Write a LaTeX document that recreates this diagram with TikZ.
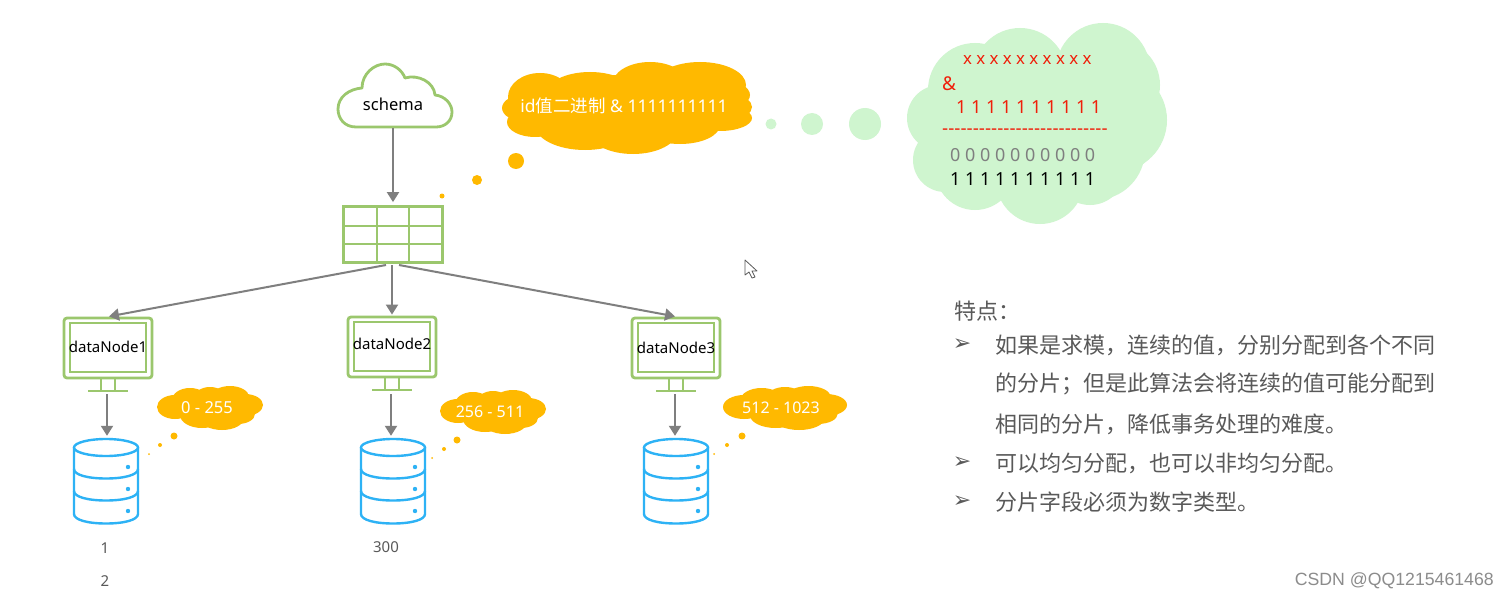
\documentclass[tikz,border=0pt]{standalone}
\usepackage{fontspec}
\setmainfont{Noto Sans}
\newfontfamily\cjkf{Noto Sans CJK SC}
\newfontfamily\symf{DejaVu Sans}
\newfontfamily\wmf{Liberation Sans}
\usetikzlibrary{arrows.meta}
\definecolor{grn}{HTML}{9BC76D}
\definecolor{org}{HTML}{FFB900}
\definecolor{mint}{HTML}{CFF5CF}
\definecolor{dbb}{HTML}{2DB2F5}
\definecolor{arr}{HTML}{7F7F7F}
\definecolor{txtg}{HTML}{595959}
\definecolor{redt}{HTML}{F01E0A}
\tikzset{
  conn/.style={draw=arr,line width=2pt,-{Triangle[length=10pt,width=12pt]}},
  gline/.style={draw=grn,line width=2.8pt},
  dbline/.style={draw=dbb,line width=2.4pt},
  lab/.style={inner sep=0pt,font=\fontsize{15}{18}\selectfont},
  whitelab/.style={lab,text=white},
  calc/.style={inner sep=0pt,anchor=west,font=\fontsize{18}{20}\selectfont},
  point/.style={inner sep=0pt,anchor=west,text=txtg,font=\cjkf\fontsize{22}{24}\selectfont},
  bul/.style={inner sep=0pt,text=txtg,font=\symf\fontsize{22}{24}\selectfont},
  num/.style={inner sep=0pt,text=txtg,font=\fontsize{15}{16}\selectfont},
}
\newcommand{\blob}[2]{\foreach \a/\b/\c/\d in {#2}{\fill[#1] (\a,\b) ellipse [x radius=\c pt,y radius=\d pt];}}
\newcommand{\dotc}[4]{\fill[#1] (#2,#3) circle [radius=#4pt];}
\newcommand{\smallcloud}[3]{\begin{scope}[shift={(#1,#2)},xscale=#3]
  \blob{org}{-35/-1/18/12,-20/-8/18/12,-8/7/22/13,12/10/22/12,28/6/17/10,35/-3/18/11,20/-11/19/11,0/-10/16/11,0/0/38/14}
\end{scope}}
\newcommand{\monitor}[5]{% name cx cy label-dy label
  \node[gline,rounded corners=3pt,minimum width=88pt,minimum height=60pt,inner sep=0pt] (#1) at (#2,#3) {};
  \draw[gline] (#2-38,#3-25) rectangle (#2+38,#3+24);
  \draw[gline] (#2-7,#3+30) -- (#2-7,#3+42) (#2+7,#3+30) -- (#2+7,#3+42);
  \draw[gline] (#2-20,#3+43) -- (#2+20,#3+43);
  \node[lab] at (#2,#3+#4) {#5};
}
\newcommand{\database}[2]{% name cx
  \node[minimum width=64pt,minimum height=85pt,inner sep=0pt] (#1) at (#2,481.5) {};
  \draw[dbline] (#2,447.5) ellipse [x radius=32pt,y radius=8.5pt];
  \draw[dbline] (#2-32,447.5) -- (#2-32,514) .. controls (#2-32,520) and (#2-18,523.5) .. (#2,523.5) .. controls (#2+18,523.5) and (#2+32,520) .. (#2+32,514) -- (#2+32,447.5);
  \draw[dbline] (#2-32,469) .. controls (#2-32,475) and (#2-18,478.5) .. (#2,478.5) .. controls (#2+18,478.5) and (#2+32,475) .. (#2+32,469);
  \draw[dbline] (#2-32,491) .. controls (#2-32,497) and (#2-18,500.5) .. (#2,500.5) .. controls (#2+18,500.5) and (#2+32,497) .. (#2+32,491);
  \dotc{dbb}{#2+22}{467}{2.2}\dotc{dbb}{#2+22}{489}{2.2}\dotc{dbb}{#2+22}{511}{2.2}
}
\begin{document}
\begin{tikzpicture}[x=1pt,y=-1pt]
\useasboundingbox (0,0) rectangle (1509,599);
\fill[white] (0,0) rectangle (1509,599);
% schema cloud
\draw[gline,fill=white,line join=round] (356,127) .. controls (344,127) and (338,118) .. (338,109) .. controls (338,97) and (349,89) .. (362,88) .. controls (362,74) and (374,64) .. (385,64) .. controls (394,64) and (402,70) .. (405,78) .. controls (418,74) and (434,82) .. (435,95) .. controls (445,96) and (452,104) .. (452,112) .. controls (452,121) and (445,127) .. (436,127) -- cycle;
\node[lab,font=\fontsize{16.5}{18}\selectfont,minimum width=114pt,minimum height=48pt] (schema) at (393,104) {schema};
% table
\node[gline,minimum width=99pt,minimum height=56pt,inner sep=0pt] (table) at (393,234.5) {};
\draw[gline] (377,207) -- (377,262) (409,207) -- (409,262) (344,226) -- (442,226) (344,244) -- (442,244);
\coordinate (t1) at (386,265);
\coordinate (t2) at (392,265);
\coordinate (t3) at (399,265);
% big orange cloud
\blob{org}{540/97/32/24,527/108/25/14,535/122/28/15,585/125/50/25,633/130/45/24,680/125/40/19,720/118/32/13,700/85/46/23,650/85/38/23,590/95/45/23,725/95/25/14,735/107/17/11,620/105/100/30}
\node[whitelab,font=\fontsize{17.5}{18}\selectfont] (idcloud) at (624,106) {id{\cjkf 值二进制} \& 1111111111};
\dotc{org}{516}{161}{8}\dotc{org}{477}{180}{5}\dotc{org}{442}{196}{2.5}
% green cloud
\blob{mint}{1103/70/47/47,1115/85/45/45,1115/120/52/52,1120/135/37/37,1095/150/50/50,1040/180/44/44,975/170/40/40,940/118/33/33,945/160/32/32,975/90/47/47,1020/75/47/47,1040/120/70/70,1090/170/35/35}
\dotc{mint}{771}{124}{5.5}\dotc{mint}{812}{124}{11}\dotc{mint}{865}{124}{16}
\node[calc,text=redt,font=\fontsize{16.8}{20}\selectfont] (xrow) at (963,60) {x x x x x x x x x x};
\node[calc,text=redt,font=\fontsize{19}{20}\selectfont] (amp) at (942,84) {\&};
\node[calc,text=redt] (ones) at (956,107) {1 1 1 1 1 1 1 1 1 1};
\node[calc,text=redt,font=\wmf\fontsize{18.4}{20}\selectfont] (dashes) at (942,132) {-{}-{}-{}-{}-{}-{}-{}-{}-{}-{}-{}-{}-{}-{}-{}-{}-{}-{}-{}-{}-{}-{}-{}-{}-{}-{}-};
\node[calc,text=arr] (zeros) at (950,155) {0 0 0 0 0 0 0 0 0 0};
\node[calc,text=black] (res) at (950,179) {1 1 1 1 1 1 1 1 1 1};
% monitors
\monitor{dn1}{108}{348}{-1}{dataNode1}
\monitor{dn2}{392}{347}{-3}{dataNode2}
\monitor{dn3}{676}{348}{0}{dataNode3}
\draw[conn,shorten >=1pt] (t1) -- (dn1.north);
\draw[conn,shorten >=1pt] (t2) -- (dn2.north);
\draw[conn,shorten >=1pt] (t3) -- (dn3.north);
\draw[conn,shorten >=3pt] (schema.south) -- (schema.south |- table.north);
% databases
\database{db1}{106}
\database{db2}{393}
\database{db3}{676}
\coordinate (b1) at (107,394);
\coordinate (b2) at (391,394);
\coordinate (b3) at (675,394);
\draw[conn,shorten >=3pt] (b1) -- (b1 |- db1.north);
\draw[conn,shorten >=3pt] (b2) -- (b2 |- db2.north);
\draw[conn,shorten >=3pt] (b3) -- (b3 |- db3.north);
% small clouds
\smallcloud{210}{408}{1}
\node[whitelab,font=\fontsize{16.5}{18}\selectfont] (c1) at (207,408) {0 - 255};
\dotc{org}{174}{436}{3.5}\dotc{org}{160}{445}{2}\dotc{org}{149}{454}{1}
\smallcloud{493}{412}{1}
\node[whitelab,font=\fontsize{16}{18}\selectfont] (c2) at (490,412) {256 - 511};
\dotc{org}{457}{440}{3.5}\dotc{org}{444}{449}{2}\dotc{org}{432}{458}{1}
\smallcloud{785}{408}{1.17}
\node[whitelab,font=\fontsize{16}{18}\selectfont] (c3) at (781,408) {512 - 1023};
\dotc{org}{742}{436}{3.5}\dotc{org}{727}{445}{2}\dotc{org}{714}{454}{1}
% numbers
\node[num] (n1) at (105,548) {1};
\node[num] (n2) at (105,581) {2};
\node[num] (n300) at (386,547) {300};
% cursor
\draw[fill=white,draw=txtg,line width=.8pt,line join=round] (745,260) -- (745,275) -- (749,272) -- (752,278) -- (755,277) -- (752,271) -- (757,271) -- cycle;
% text block
\node[point] (head) at (954,311) {特点：};
\node[bul] (b1t) at (962,345) {➢};
\node[point] (p1a) at (995,345) {如果是求模，连续的值，分别分配到各个不同};
\node[point] (p1b) at (995,384) {的分片；但是此算法会将连续的值可能分配到};
\node[point] (p1c) at (995,424) {相同的分片，降低事务处理的难度。};
\node[bul] (b2t) at (962,463) {➢};
\node[point] (p2) at (995,463) {可以均匀分配，也可以非均匀分配。};
\node[bul] (b3t) at (962,502) {➢};
\node[point] (p3) at (995,502) {分片字段必须为数字类型。};
\node[inner sep=0pt,anchor=east,text=black!45,font=\wmf\fontsize{17.7}{18}\selectfont] (wm) at (1494,581) {CSDN @QQ1215461468};
\end{tikzpicture}
\end{document}
